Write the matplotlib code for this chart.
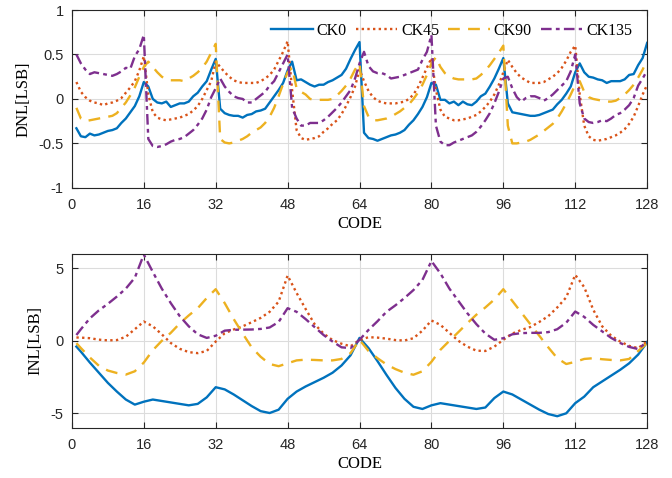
import matplotlib
matplotlib.use("Agg")
import matplotlib.pyplot as plt

# -- DNL, codes 1..128 ---------------------------------------------------------
DNL_CODE = list(range(1, 129))

DNL_CK0 = [
    -0.33, -0.42, -0.43, -0.39, -0.41, -0.40, -0.38, -0.36, -0.35, -0.33, -0.27, -0.22, -0.15, -0.08, 0.03, 0.19,
    0.14, 0.00, -0.04, -0.05, -0.03, -0.09, -0.07, -0.05, -0.05, -0.03, 0.03, 0.07, 0.14, 0.20, 0.33, 0.45,
    -0.11, -0.16, -0.18, -0.19, -0.19, -0.21, -0.18, -0.17, -0.14, -0.13, -0.11, -0.04, 0.03, 0.10, 0.18, 0.32,
    0.42, 0.21, 0.22, 0.19, 0.16, 0.14, 0.16, 0.16, 0.19, 0.21, 0.24, 0.27, 0.34, 0.45, 0.55, 0.64,
    -0.38, -0.44, -0.45, -0.47, -0.45, -0.43, -0.41, -0.40, -0.38, -0.35, -0.29, -0.24, -0.17, -0.09, 0.02, 0.18,
    0.16, -0.01, -0.01, -0.05, -0.03, -0.07, -0.03, -0.06, -0.07, -0.03, 0.03, 0.06, 0.14, 0.23, 0.34, 0.46,
    -0.05, -0.15, -0.16, -0.17, -0.18, -0.19, -0.19, -0.18, -0.16, -0.14, -0.12, -0.06, -0.01, 0.06, 0.14, 0.30,
    0.40, 0.30, 0.25, 0.24, 0.22, 0.21, 0.18, 0.20, 0.20, 0.20, 0.22, 0.27, 0.28, 0.38, 0.46, 0.63,
]

DNL_CK45 = [
    0.19, 0.08, 0.02, -0.02, -0.04, -0.05, -0.07, -0.05, -0.04, -0.02, 0.01, 0.07, 0.13, 0.20, 0.32, 0.48,
    0.05, -0.15, -0.21, -0.23, -0.24, -0.23, -0.22, -0.21, -0.19, -0.17, -0.13, -0.08, 0.00, 0.10, 0.20, 0.42,
    0.36, 0.30, 0.25, 0.21, 0.19, 0.18, 0.18, 0.18, 0.18, 0.20, 0.23, 0.27, 0.33, 0.43, 0.53, 0.65,
    0.10, -0.35, -0.44, -0.46, -0.45, -0.44, -0.42, -0.37, -0.33, -0.28, -0.24, -0.17, -0.08, 0.02, 0.14, 0.33,
    0.20, 0.09, 0.02, -0.02, -0.04, -0.05, -0.05, -0.05, -0.04, -0.03, 0.00, 0.05, 0.13, 0.24, 0.35, 0.46,
    0.10, -0.12, -0.20, -0.22, -0.24, -0.24, -0.23, -0.22, -0.20, -0.18, -0.14, -0.09, -0.03, 0.05, 0.16, 0.30,
    0.44, 0.36, 0.29, 0.24, 0.21, 0.18, 0.18, 0.18, 0.19, 0.22, 0.25, 0.29, 0.35, 0.43, 0.53, 0.60,
    0.05, -0.30, -0.42, -0.46, -0.47, -0.46, -0.45, -0.43, -0.41, -0.38, -0.34, -0.28, -0.20, -0.08, 0.05, 0.16,
]

DNL_CK90 = [
    -0.10, -0.22, -0.25, -0.24, -0.23, -0.22, -0.21, -0.20, -0.19, -0.16, -0.10, -0.04, 0.04, 0.13, 0.25, 0.36,
    0.42, 0.36, 0.30, 0.25, 0.22, 0.21, 0.21, 0.21, 0.20, 0.23, 0.26, 0.30, 0.35, 0.42, 0.52, 0.62,
    -0.45, -0.49, -0.50, -0.49, -0.47, -0.45, -0.42, -0.38, -0.35, -0.32, -0.27, -0.20, -0.10, 0.03, 0.17, 0.30,
    0.35, 0.12, 0.08, 0.05, 0.00, -0.01, -0.01, -0.01, -0.01, 0.00, 0.04, 0.09, 0.15, 0.23, 0.33, 0.40,
    -0.08, -0.20, -0.24, -0.24, -0.23, -0.22, -0.20, -0.17, -0.14, -0.10, -0.06, 0.00, 0.07, 0.16, 0.27, 0.40,
    0.47, 0.36, 0.29, 0.25, 0.23, 0.22, 0.22, 0.22, 0.22, 0.23, 0.27, 0.32, 0.38, 0.45, 0.52, 0.60,
    -0.30, -0.50, -0.50, -0.49, -0.48, -0.46, -0.43, -0.40, -0.36, -0.32, -0.28, -0.22, -0.14, -0.05, 0.05, 0.16,
    0.20, 0.08, 0.02, 0.00, -0.01, -0.02, -0.03, -0.03, -0.02, 0.01, 0.05, 0.10, 0.16, 0.24, 0.33, 0.44,
]

DNL_CK135 = [
    0.50, 0.40, 0.33, 0.28, 0.30, 0.29, 0.28, 0.27, 0.26, 0.28, 0.31, 0.35, 0.34, 0.48, 0.56, 0.72,
    -0.45, -0.53, -0.54, -0.53, -0.51, -0.48, -0.46, -0.45, -0.43, -0.39, -0.35, -0.29, -0.22, -0.12, 0.02, 0.12,
    0.23, 0.14, 0.08, 0.03, 0.01, 0.00, -0.04, -0.04, 0.00, 0.04, 0.08, 0.15, 0.20, 0.30, 0.40, 0.50,
    -0.10, -0.22, -0.30, -0.30, -0.27, -0.27, -0.27, -0.24, -0.20, -0.15, -0.10, -0.04, 0.03, 0.10, 0.23, 0.40,
    0.53, 0.37, 0.31, 0.29, 0.29, 0.27, 0.23, 0.24, 0.25, 0.27, 0.29, 0.31, 0.33, 0.44, 0.53, 0.72,
    -0.30, -0.48, -0.52, -0.52, -0.49, -0.47, -0.45, -0.43, -0.41, -0.37, -0.31, -0.24, -0.16, -0.05, 0.08, 0.23,
    0.25, 0.12, 0.02, -0.03, 0.01, 0.03, 0.03, 0.01, -0.02, 0.01, 0.05, 0.10, 0.15, 0.20, 0.31, 0.50,
    -0.05, -0.22, -0.26, -0.27, -0.26, -0.24, -0.25, -0.22, -0.18, -0.16, -0.12, -0.07, 0.01, 0.15, 0.23, 0.32,
]

# -- INL, code 1 then even codes 2..128 -------------------------------------------
INL_CODE = [1] + list(range(2, 129, 2))

INL_CK0 = [
    -0.40, -0.75, -1.50, -2.20, -2.90, -3.50, -4.05, -4.40, -4.20, -4.05, -4.15, -4.25, -4.35, -4.45, -4.35, -3.90, -3.20,
    -3.35, -3.70, -4.10, -4.50, -4.85, -4.98, -4.75, -4.00, -3.50, -3.15, -2.85, -2.55, -2.20, -1.70, -1.00, 0.20,
    -0.50, -1.40, -2.35, -3.25, -4.00, -4.55, -4.70, -4.45, -4.30, -4.40, -4.50, -4.60, -4.70, -4.60, -3.95, -3.50,
    -3.70, -4.05, -4.40, -4.75, -5.05, -5.20, -5.00, -4.30, -3.85, -3.20, -2.80, -2.40, -2.00, -1.55, -0.95, -0.10,
]

INL_CK45 = [
    0.23, 0.22, 0.18, 0.08, 0.03, 0.05, 0.28, 0.80, 1.33, 1.00, 0.45, -0.15, -0.55, -0.78, -0.85, -0.70, -0.05,
    0.52, 0.78, 1.00, 1.28, 1.58, 2.00, 2.70, 4.50, 3.30, 2.20, 1.15, 0.50, 0.05, -0.20, -0.38, 0.05,
    0.25, 0.22, 0.15, 0.05, 0.02, 0.18, 0.70, 1.40, 1.10, 0.55, 0.00, -0.40, -0.68, -0.70, -0.40, 0.07,
    0.50, 0.75, 0.95, 1.30, 1.70, 2.30, 3.00, 4.55, 3.70, 2.15, 1.00, 0.35, -0.05, -0.35, -0.50, -0.05,
]

INL_CK90 = [
    -0.16, -0.50, -1.15, -1.72, -2.05, -2.22, -2.33, -2.10, -1.50, -0.65, 0.00, 0.55, 1.20, 1.75, 2.25, 2.95, 3.56,
    2.60, 1.50, 0.50, -0.45, -1.10, -1.60, -1.75, -1.55, -1.35, -1.30, -1.32, -1.35, -1.35, -1.25, -0.85, 0.07,
    -0.70, -1.20, -1.63, -1.95, -2.20, -2.34, -2.10, -1.45, -0.62, 0.00, 0.60, 1.22, 1.80, 2.30, 2.85, 3.56,
    2.75, 1.95, 1.15, 0.35, -0.45, -1.20, -1.60, -1.45, -1.25, -1.20, -1.27, -1.32, -1.35, -1.25, -0.70, -0.16,
]

INL_CK135 = [
    0.40, 0.80, 1.55, 2.10, 2.55, 3.05, 3.60, 4.35, 5.95, 4.75, 3.60, 2.60, 1.70, 1.00, 0.45, 0.20, 0.35,
    0.70, 0.76, 0.77, 0.78, 0.82, 0.92, 1.30, 2.25, 2.00, 1.50, 0.95, 0.40, -0.05, -0.45, -0.50, 0.07,
    0.75, 1.35, 2.00, 2.45, 2.95, 3.50, 4.20, 5.50, 4.65, 3.60, 2.75, 1.90, 1.15, 0.50, 0.07, 0.18,
    0.45, 0.53, 0.55, 0.55, 0.60, 0.80, 1.25, 2.02, 1.65, 1.10, 0.65, 0.20, -0.15, -0.42, -0.57, -0.05,
]

LABELS = ["CK0", "CK45", "CK90", "CK135"]
COLORS = ["#0072BD", "#D95319", "#EDB120", "#7E2F8E"]
STYLES = ["-", (0, (1, 1.4)), (0, (5, 3.5)), (0, (4.5, 1.8, 1.6, 1.8))]
XTICKS = [0, 16, 32, 48, 64, 80, 96, 112, 128]

SERIF = ["Liberation Serif", "DejaVu Serif"]
SANS = ["Liberation Sans", "DejaVu Sans"]

plt.rcParams["font.family"] = SANS
plt.rcParams["font.size"] = 10


def style_axes(ax, ylim, yticks, ylabel):
    ax.set_xlim(0, 128)
    ax.set_ylim(*ylim)
    ax.set_xticks(XTICKS)
    ax.set_yticks(yticks)
    ax.grid(True, color="#dcdcdc", linewidth=0.8)
    ax.set_axisbelow(True)
    ax.tick_params(direction="in", top=True, right=True, length=4,
                   width=0.8, color="#262626", labelsize=10.5, labelcolor="#262626")
    ax.tick_params(axis="x", pad=7)
    ax.tick_params(axis="y", pad=6)
    for spine in ax.spines.values():
        spine.set_color("#262626")
        spine.set_linewidth(0.8)
    ax.set_xlabel("CODE", family=SERIF, fontsize=12, labelpad=3)
    ax.set_ylabel(ylabel, family=SERIF, fontsize=12, labelpad=5)


fig = plt.figure(figsize=(6.72, 4.78), dpi=100)
ax1 = fig.add_axes([0.107, 0.607, 0.856, 0.372])
ax2 = fig.add_axes([0.107, 0.105, 0.856, 0.364])

dnl = [DNL_CK0, DNL_CK45, DNL_CK90, DNL_CK135]
inl = [INL_CK0, INL_CK45, INL_CK90, INL_CK135]

for vals, lab, col, ls in zip(dnl, LABELS, COLORS, STYLES):
    ax1.plot(DNL_CODE, vals, color=col, linestyle=ls, linewidth=1.7, label=lab)
for vals, lab, col, ls in zip(inl, LABELS, COLORS, STYLES):
    ax2.plot(INL_CODE, vals, color=col, linestyle=ls, linewidth=1.7, label=lab)

style_axes(ax1, (-1, 1), [-1, -0.5, 0, 0.5, 1], "DNL[LSB]")
style_axes(ax2, (-6, 6), [-5, 0, 5], "INL[LSB]")
ax1.set_yticklabels(["-1", "-0.5", "0", "0.5", "1"])
ax2.set_yticklabels(["-5", "0", "5"])

ax1.legend(loc="upper right", ncol=4, frameon=False, prop={"family": SERIF, "size": 11.5},
           handlelength=2.6, columnspacing=0.55, handletextpad=0.25,
           borderaxespad=0.0, bbox_to_anchor=(0.985, 0.965))

fig.savefig("out.png", dpi=100)
